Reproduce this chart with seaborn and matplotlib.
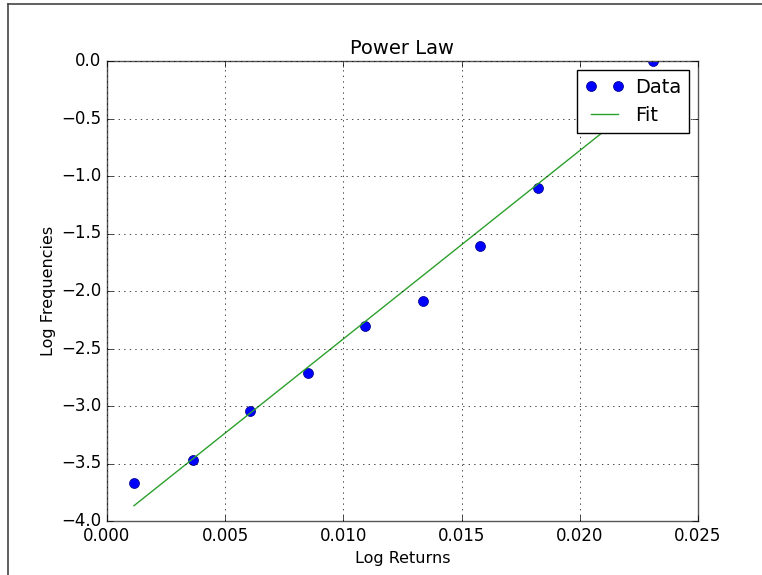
import numpy as np
import pandas as pd
import matplotlib
matplotlib.use("Agg")
import matplotlib.pyplot as plt
from matplotlib.lines import Line2D
import seaborn as sns

# Data
log_returns = [0.00114, 0.00364, 0.00605, 0.00850, 0.01091, 0.01337, 0.01578, 0.01823, 0.02310]
log_freqs = [-3.67, -3.47, -3.04, -2.71, -2.30, -2.09, -1.61, -1.10, 0.00]
x_ticks = [0.000, 0.005, 0.010, 0.015, 0.020, 0.025]
y_ticks = [0.0, -0.5, -1.0, -1.5, -2.0, -2.5, -3.0, -3.5, -4.0]

plt.style.use("classic")
plt.rcParams["font.family"] = ["DejaVu Sans"]

df = pd.DataFrame({"x": log_returns, "y": log_freqs})
coef = np.polyfit(df["x"], df["y"], 1)
df["fit"] = np.polyval(coef, df["x"])

fig = plt.figure(figsize=(7.62, 5.75), dpi=100, facecolor="white")
ax = fig.add_axes([107 / 762, 1 - 521 / 575, 591 / 762, 460 / 575])
ax.set_facecolor("white")

sns.lineplot(data=df, x="x", y="y", ax=ax, marker="o", linestyle="none",
             color="blue", markersize=7.2, markeredgewidth=0.5,
             markeredgecolor="#000080", label="Data", sort=False)
sns.lineplot(data=df, x="x", y="fit", ax=ax, color="#2ca02c", linewidth=1.0,
             label="Fit", sort=False)

ax.set_xlim(0, 0.025)
ax.set_ylim(-4.0, 0.0)
ax.set_xticks(x_ticks)
ax.set_yticks(y_ticks)
ax.set_xticklabels([f"{t:.3f}" for t in x_ticks])
ax.set_yticklabels([f"{t:.1f}".replace("-", "\u2212") for t in y_ticks])
ax.grid(True, linestyle=":", color="black", linewidth=0.5)
ax.tick_params(direction="in", length=4, labelsize=12, pad=4)
for s in ax.spines.values():
    s.set_color("#555555")
    s.set_linewidth(1.0)

ax.set_title("Power Law", fontsize=14)
ax.set_xlabel("Log Returns", fontsize=11.5, labelpad=5)
ax.set_ylabel("Log Frequencies", fontsize=11.5, labelpad=4)
leg = ax.legend(loc="upper right", numpoints=2, fontsize=14, fancybox=False,
                framealpha=1.0, borderaxespad=0.45, handletextpad=0.6)
leg.get_frame().set_edgecolor("black")

# outer frame of the screenshot
fig.add_artist(Line2D([8 / 762, 8 / 762], [0, 1 - 3.5 / 575], transform=fig.transFigure,
                      color="#444444", linewidth=1.2))
fig.add_artist(Line2D([8 / 762, 1], [1 - 3.5 / 575, 1 - 3.5 / 575], transform=fig.transFigure,
                      color="#444444", linewidth=1.2))

fig.savefig("out.png", dpi=100, facecolor="white")
